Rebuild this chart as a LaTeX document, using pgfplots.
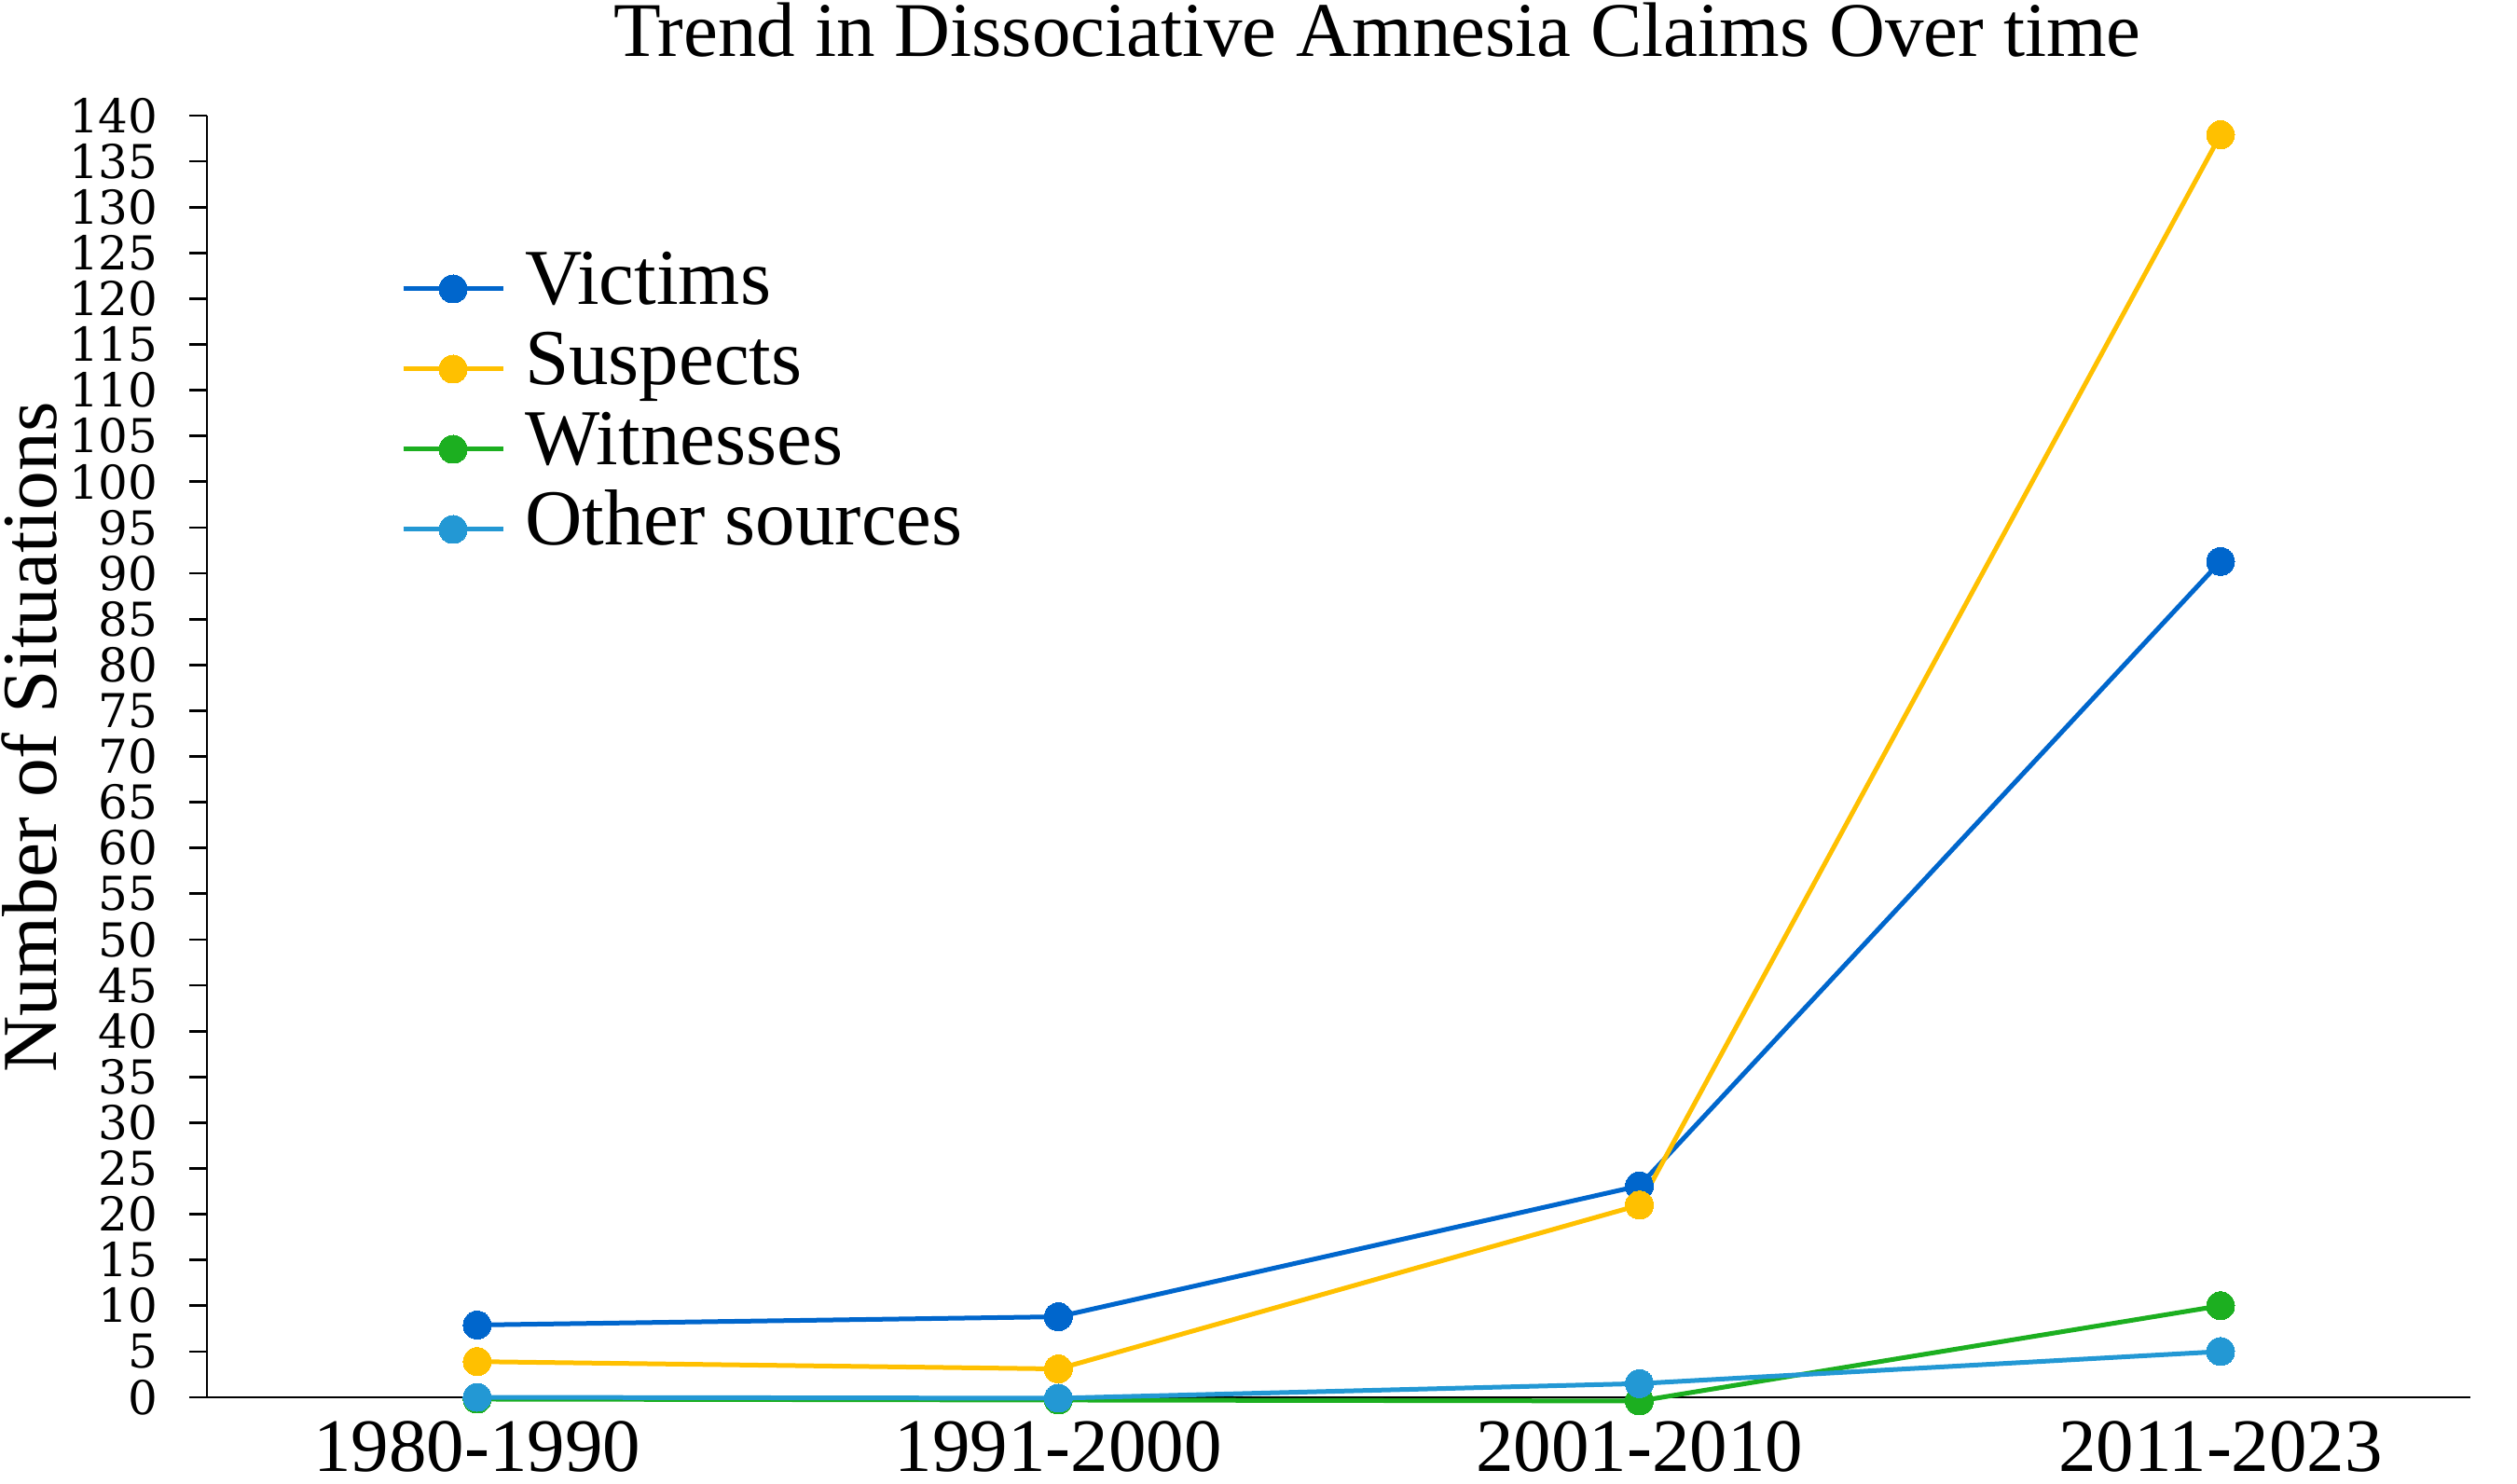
\documentclass[border=0pt]{standalone}
\usepackage{pgfplots}
\pgfplotsset{compat=1.18}
\usepackage{fontspec}
\setmainfont{Liberation Serif}
\newfontfamily\tickfont{DejaVu Serif}
\definecolor{cVict}{RGB}{0,102,204}
\definecolor{cSusp}{RGB}{255,192,0}
\definecolor{cWit}{RGB}{28,175,32}
\definecolor{cOth}{RGB}{35,152,212}
\begin{document}
\begin{tikzpicture}
\useasboundingbox (0,0) rectangle (540pt,318.2pt);
\begin{axis}[
  at={(44.4pt,18.4pt)}, anchor=south west,
  scale only axis, width=485.6pt, height=275pt,
  xmin=-0.465, xmax=3.43, ymin=0, ymax=140,
  clip=false,
  axis x line=bottom, axis y line=left,
  axis line style={line width=0.55pt, -},
  tick align=outside, major tick length=3.7pt,
  tick style={line width=0.55pt, black},
  xtick={0,1,2,3},
  xticklabels={1980-1990,1991-2000,2001-2010,2011-2023},
  xtick style={draw=none},
  xticklabel style={font=\fontsize{16.2}{18}\selectfont, anchor=base, inner sep=0pt, yshift=-12.2pt},
  ytick={0,5,...,140},
  yticklabel style={font=\tickfont\fontsize{10}{12}\selectfont, anchor=east, inner sep=0pt, xshift=-6.6pt},
  /pgf/number format/assume math mode=true,
  title={Trend in Dissociative Amnesia Claims Over time},
  title style={at={(axis description cs:0.517,1.0465)}, anchor=base, yshift=-6pt, inner sep=0pt, font=\fontsize{16.6}{20}\selectfont},
  ylabel={Number of Situations},
  every axis y label/.style={at={(axis description cs:-0.0667,0.515)}, rotate=90, anchor=base, inner sep=0pt, font=\fontsize{16.7}{20}\selectfont},
  legend style={at={(axis description cs:0.0857,0.896)}, anchor=north west, draw=none, fill=none, inner sep=0pt, outer sep=0pt,
    font=\fontsize{17}{20}\selectfont, row sep=0pt,
    nodes={inner sep=0pt, text height=12pt, text depth=5.2pt},
    /tikz/every odd column/.append style={column sep=4.2pt}},
  legend cell align=left,
  legend image code/.code={\draw[mark repeat=2,mark phase=2] plot coordinates {(0pt,0pt)(10.7pt,0pt)(21.4pt,0pt)};},
  every axis plot/.append style={line width=1pt, mark=*, mark size=3pt},
]
\addplot[color=cVict, mark options={fill=cVict, draw=cVict, line width=0pt}] coordinates {(0,7.9) (1,8.8) (2,23.1) (3,91.3)};
\addlegendentry{Victims}
\addplot[color=cSusp, mark options={fill=cSusp, draw=cSusp, line width=0pt}] coordinates {(0,3.9) (1,3.1) (2,21.0) (3,137.9)};
\addlegendentry{Suspects}
\addplot[color=cWit, mark options={fill=cWit, draw=cWit, line width=0pt}] coordinates {(0,-0.2) (1,-0.3) (2,-0.4) (3,10.0)};
\addlegendentry{Witnesses}
\addplot[color=cOth, mark options={fill=cOth, draw=cOth, line width=0pt}] coordinates {(0,0.0) (1,-0.1) (2,1.5) (3,5.0)};
\addlegendentry{Other sources}
\end{axis}
\end{tikzpicture}
\end{document}
